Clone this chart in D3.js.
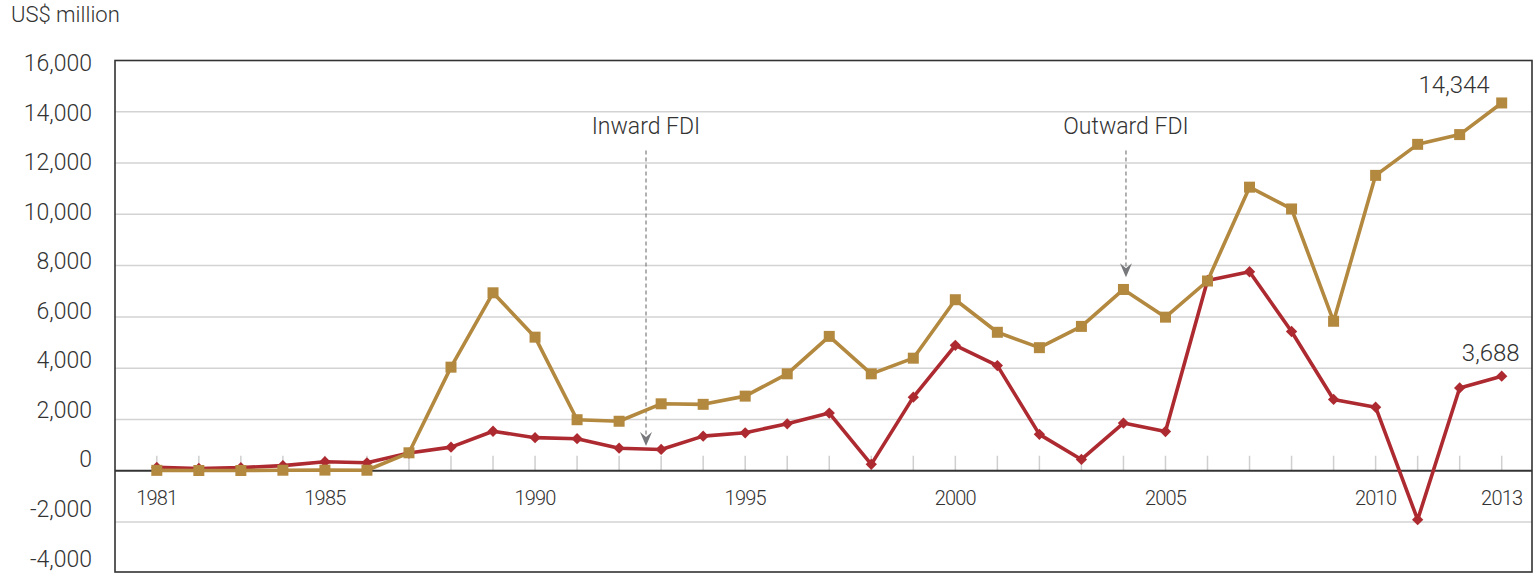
<!DOCTYPE html>
<html>
<head>
<meta charset="utf-8">
<script src="https://cdn.jsdelivr.net/npm/d3@7"></script>
<style>
  html, body { margin: 0; padding: 0; background: #fff; }
  svg { display: block; font-family: Roboto, 'Liberation Sans', Arial, sans-serif; font-weight: 300; }
</style>
</head>
<body>
<div id="chart"></div>
<script>
// years on the x axis
const years = d3.range(1981, 2014)

// US$ million
const inwardFDI = [
  130, 90, 120, 200, 350, 310, 690, 920, 1540, 1290,
  1250, 880, 830, 1350, 1480, 1830, 2250, 250, 2870, 4890,
  4100, 1420, 440, 1860, 1530, 7420, 7760, 5430, 2780, 2480,
  -1910, 3230, 3688
]
const outwardFDI = [
  15, 10, 10, 20, 25, 20, 700, 4040, 6940, 5210,
  1990, 1930, 2610, 2590, 2910, 3780, 5240, 3780, 4390, 6670,
  5400, 4800, 5630, 7070, 5990, 7400, 11060, 10210, 5830, 11520,
  12730, 13110, 14344
]

const yTicks = [-4000, -2000, 0, 2000, 4000, 6000, 8000, 10000, 12000, 14000, 16000]
const yearLabels = [1981, 1985, 1990, 1995, 2000, 2005, 2010, 2013]

// arrow call-outs: label, year, value at arrow tip, value at top of arrow, value of label baseline
const calloutLabels = ['Inward FDI', 'Outward FDI']
const calloutYears = [1992.64, 2004.06]
const calloutTips = [963, 7543]
const calloutTop = 12490
const calloutText = 13120

const width = 1534
const height = 573
const frame = { left: 115, top: 60.5, right: 1532, bottom: 572 }

const gold = '#b3883f'
const red = '#ad2a30'
const ink = '#333'

const svg = d3.select('#chart')
  .append('svg')
  .attr('width', width)
  .attr('height', height)

const x = d3.scaleLinear()
  .domain([1981, 2013])
  .range([156.8, 1501.7])

const y = d3.scaleLinear()
  .domain([-4000, 16000])
  .range([573.3, frame.top])

// tick labels sit slightly off the gridlines in the original
const yLabel = d3.scaleLinear()
  .domain([-4000, 16000])
  .range([y(-4000) - 15, y(16000) + 2.3])

// gridlines
svg.append('g')
  .selectAll('line')
  .data(yTicks.filter(d => d !== 0 && d !== 16000 && d !== -4000))
  .join('line')
  .attr('x1', frame.left)
  .attr('x2', frame.right)
  .attr('y1', d => y(d))
  .attr('y2', d => y(d))
  .attr('stroke', '#d3d3d3')
  .attr('stroke-width', 1.5)

// small year ticks above zero line
svg.append('g')
  .selectAll('line')
  .data(years)
  .join('line')
  .attr('x1', d => x(d))
  .attr('x2', d => x(d))
  .attr('y1', y(0) - 15)
  .attr('y2', y(0))
  .attr('stroke', '#cfcfcf')
  .attr('stroke-width', 1.5)

// zero line
svg.append('line')
  .attr('x1', frame.left)
  .attr('x2', frame.right)
  .attr('y1', y(0))
  .attr('y2', y(0))
  .attr('stroke', '#333')
  .attr('stroke-width', 2)

// frame
svg.append('rect')
  .attr('x', frame.left)
  .attr('y', frame.top)
  .attr('width', frame.right - frame.left)
  .attr('height', frame.bottom - frame.top)
  .attr('fill', 'none')
  .attr('stroke', '#333')
  .attr('stroke-width', 1.6)

// y tick labels
svg.append('g')
  .selectAll('text')
  .data(yTicks)
  .join('text')
  .attr('x', 92)
  .attr('y', d => yLabel(d))
  .attr('dy', '0.36em')
  .attr('text-anchor', 'end')
  .attr('font-size', 23)
  .attr('fill', ink)
  .text(d => d3.format(',')(d).replace('−', '-'))

// year labels
svg.append('g')
  .selectAll('text')
  .data(yearLabels)
  .join('text')
  .attr('x', d => x(d))
  .attr('y', y(0) + 34.5)
  .attr('text-anchor', 'middle')
  .attr('font-size', 20)
  .attr('letter-spacing', -0.8)
  .attr('fill', ink)
  .text(d => d)

svg.append('text')
  .attr('x', 11)
  .attr('y', 22)
  .attr('font-size', 22)
  .attr('fill', ink)
  .text('US$ million')

// call-outs
calloutLabels.forEach((label, i) => {
  const cx = x(calloutYears[i])
  const tip = y(calloutTips[i])
  svg.append('text')
    .attr('x', cx)
    .attr('y', y(calloutText))
    .attr('text-anchor', 'middle')
    .attr('font-size', 23)
    .attr('fill', ink)
    .text(label)
  svg.append('line')
    .attr('x1', cx)
    .attr('x2', cx)
    .attr('y1', y(calloutTop))
    .attr('y2', tip - 8)
    .attr('stroke', '#888')
    .attr('stroke-width', 1.3)
    .attr('stroke-dasharray', '4,3')
  svg.append('path')
    .attr('d', `M${cx},${tip} L${cx - 6},${tip - 14} L${cx},${tip - 9} L${cx + 6},${tip - 14} Z`)
    .attr('fill', '#77787b')
})

const line = d3.line()
  .x((d, i) => x(years[i]))
  .y(d => y(d))

const series = [
  { values: inwardFDI, color: red, symbol: 'diamond' },
  { values: outwardFDI, color: gold, symbol: 'square' }
]

series.forEach(s => {
  svg.append('path')
    .datum(s.values)
    .attr('fill', 'none')
    .attr('stroke', s.color)
    .attr('stroke-width', 3.6)
    .attr('stroke-linejoin', 'round')
    .attr('d', line)

  svg.append('g')
    .selectAll('path')
    .data(s.values)
    .join('path')
    .attr('d', d3.symbol(d3.symbolSquare, s.symbol === 'square' ? 121 : 64))
    .attr('transform', (d, i) => `translate(${x(years[i])},${y(d)})` + (s.symbol === 'diamond' ? ' rotate(45)' : ''))
    .attr('fill', s.color)
})

// end value labels
svg.append('text')
  .attr('x', x(2013) - 12)
  .attr('y', y(outwardFDI[outwardFDI.length - 1]) - 9.5)
  .attr('text-anchor', 'end')
  .attr('font-size', 24)
  .attr('fill', ink)
  .text(d3.format(',')(outwardFDI[outwardFDI.length - 1]))

svg.append('text')
  .attr('x', x(2013) + 18)
  .attr('y', y(inwardFDI[inwardFDI.length - 1]) - 15)
  .attr('text-anchor', 'end')
  .attr('font-size', 24)
  .attr('fill', ink)
  .text(d3.format(',')(inwardFDI[inwardFDI.length - 1]))
</script>
</body>
</html>
